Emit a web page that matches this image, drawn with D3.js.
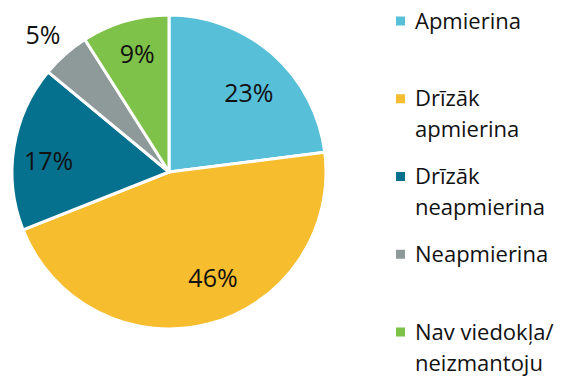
<!DOCTYPE html>
<html>
<head>
<meta charset="utf-8">
<script src="https://cdn.jsdelivr.net/npm/d3@7"></script>
<style>
  html, body { margin: 0; padding: 0; background: #fff; }
  svg { display: block; font-family: "Open Sans", "Noto Sans", sans-serif; }
</style>
</head>
<body>
<svg id="chart" width="561" height="376"></svg>
<script>
// Survey answers and their shares (%)
const categories = ["Apmierina", "Drīzāk apmierina", "Drīzāk neapmierina", "Neapmierina", "Nav viedokļa/ neizmantoju"];
const values = [23, 46, 17, 5, 9];
const colors = ["#57bfd8", "#f6bd2e", "#06718e", "#8d9a99", "#7ec24a"];
// Legend text split into lines
const legendLines = [["Apmierina"], ["Drīzāk", "apmierina"], ["Drīzāk", "neapmierina"], ["Neapmierina"], ["Nav viedokļa/", "neizmantoju"]];

// Label placement: radius (px from centre) and angle nudge (deg) per slice
const labelRadius = [113, 114, 121, 187, 123];
const labelNudge = [3.6, -8.3, -3.3, -1, 1.2];

const svg = d3.select("#chart");
const cx = 169, cy = 172, R = 157;

const pie = d3.pie().value(d => d).sort(null);
const arcs = pie(values);
const arc = d3.arc().innerRadius(0).outerRadius(R);

const g = svg.append("g").attr("transform", `translate(${cx},${cy})`);

g.selectAll("path.slice")
  .data(arcs)
  .join("path")
  .attr("class", "slice")
  .attr("d", arc)
  .attr("fill", (d, i) => colors[i])
  .attr("stroke", "#fff")
  .attr("stroke-width", 3)
  .attr("stroke-linejoin", "round");

g.selectAll("text.pct")
  .data(arcs)
  .join("text")
  .attr("class", "pct")
  .attr("x", (d, i) => {
    const a = (d.startAngle + d.endAngle) / 2 + labelNudge[i] * Math.PI / 180;
    return labelRadius[i] * Math.sin(a);
  })
  .attr("y", (d, i) => {
    const a = (d.startAngle + d.endAngle) / 2 + labelNudge[i] * Math.PI / 180;
    return -labelRadius[i] * Math.cos(a);
  })
  .attr("text-anchor", "middle")
  .attr("dominant-baseline", "central")
  .attr("font-size", 25)
  .attr("fill", "#111")
  .text(d => d.data + "%");

// Legend
const legendY = d3.scalePoint().domain(categories).range([21, 332]);
const lineH = 31;
const legend = svg.append("g");
categories.forEach((c, i) => {
  const y = legendY(c);
  legend.append("rect")
    .attr("x", 396).attr("y", y - 4.5)
    .attr("width", 9).attr("height", 9)
    .attr("fill", colors[i]);
  const t = legend.append("text")
    .attr("x", 415).attr("y", y + 7.5)
    .attr("font-size", 22)
    .attr("fill", "#111");
  legendLines[i].forEach((ln, j) => {
    t.append("tspan").attr("x", 415).attr("dy", j === 0 ? 0 : lineH).text(ln);
  });
});
</script>
</body>
</html>
